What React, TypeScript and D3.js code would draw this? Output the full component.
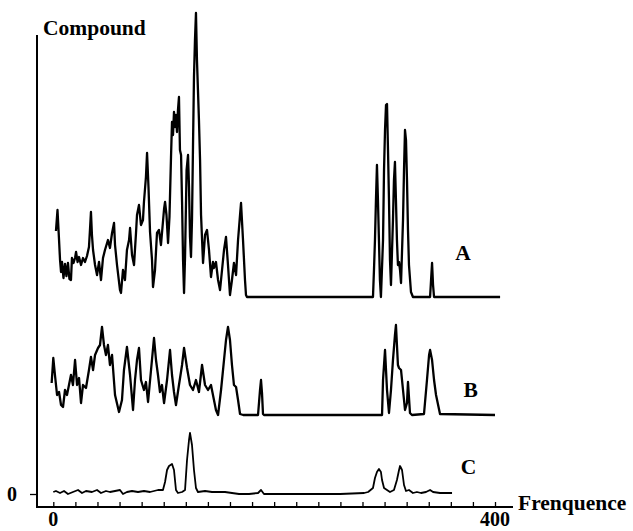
import React, { useEffect, useRef } from 'react';
import * as d3 from 'd3';

// trace data: [frequence, intensity above the trace's own baseline]
const traceA: [number, number][] = [
  [2.4, 66], [3.8, 87], [5.2, 57], [6.1, 37], [7.0, 25], [7.9, 35], [9.2, 19], [10.6, 33], [11.9, 21], [13.3, 34],
  [14.6, 18], [16.0, 17], [16.9, 39], [18.3, 34], [19.7, 39], [20.6, 45], [22.0, 35], [23.3, 40], [25.1, 32], [26.9, 39],
  [28.7, 35], [30.5, 41], [32.3, 50], [33.2, 67], [34.1, 85], [35.0, 62], [36.0, 47], [37.8, 32], [39.6, 22], [41.4, 35],
  [43.2, 17], [45.0, 39], [46.8, 47], [49.5, 57], [51.3, 49], [53.2, 64], [55.0, 74], [55.9, 52], [57.7, 32], [60.4, 7],
  [61.3, 4], [63.1, 27], [64.9, 17], [66.7, 47], [68.6, 57], [69.5, 69], [71.3, 42], [73.1, 32], [74.9, 64], [75.8, 82],
  [77.6, 92], [79.4, 72], [81.2, 77], [82.1, 95], [83.9, 120], [84.9, 144], [86.2, 110], [87.6, 65], [89.4, 37], [90.3, 10],
  [92.1, 27], [93.9, 64], [95.7, 67], [97.5, 52], [100.3, 88], [101.2, 95], [102.5, 82], [103.9, 54], [105.2, 80], [106.6, 140],
  [107.5, 175], [108.4, 162], [109.3, 185], [110.2, 170], [111.1, 182], [112.0, 165], [112.9, 187], [113.8, 200], [114.7, 147],
  [115.7, 142], [116.6, 95], [117.5, 37], [118.4, 4], [119.3, 40], [120.7, 127], [122.0, 142], [122.9, 110], [123.8, 60],
  [124.7, 40], [125.6, 77], [126.5, 150], [127.4, 220], [128.3, 257], [129.2, 284], [130.1, 237], [131.0, 207], [131.9, 177],
  [132.9, 137], [133.8, 82], [135.6, 34], [137.4, 62], [139.2, 67], [141.0, 47], [142.8, 20], [144.6, 35], [145.5, 29],
  [147.3, 35], [149.2, 17], [151.0, 7], [152.8, 27], [154.6, 47], [156.4, 60], [158.2, 32], [160.0, 2], [161.8, 17],
  [163.6, 34], [165.5, 22], [167.3, 57], [169.1, 82], [170.0, 94], [171.8, 57], [173.6, 17], [174.5, 2], [175.4, 0],
  [289.5, 0], [290.4, 27], [291.3, 57], [292.2, 97], [293.1, 132], [294.0, 97], [294.9, 57], [295.8, 17], [296.7, 0],
  [298.6, 57], [299.5, 127], [300.4, 167], [301.3, 192], [302.2, 193], [303.1, 147], [304.0, 97], [304.9, 37], [305.8, 12],
  [307.6, 77], [308.5, 117], [309.4, 135], [310.3, 97], [311.2, 57], [312.1, 32], [313.1, 35], [314.0, 27], [314.9, 14],
  [316.7, 77], [317.6, 127], [318.5, 167], [319.4, 157], [320.3, 117], [321.2, 67], [322.1, 32], [323.9, 5], [325.7, 0],
  [341.2, 0], [342.1, 17], [343.0, 34], [343.9, 12], [344.8, 0], [404.6, 0]
];

const traceB: [number, number][] = [
  [-1.5, 32], [0, 57], [1.5, 40], [3.4, 20], [5.2, 23], [7.0, 10], [8.8, 8], [10.6, 25], [12.4, 20], [14.2, 30],
  [16.0, 40], [17.8, 30], [19.7, 55], [21.5, 30], [23.3, 37], [25.1, 12], [26.9, 30], [29.6, 27], [32.3, 45], [34.1, 58],
  [36.0, 45], [37.8, 60], [40.5, 67], [42.3, 70], [44.1, 88], [45.9, 70], [47.7, 60], [49.5, 70], [51.3, 50], [53.2, 60],
  [55.9, 20], [59.5, 3], [62.2, 15], [64.0, 45], [66.7, 68], [69.5, 40], [72.2, 5], [74.0, 35], [75.8, 55], [77.6, 67],
  [79.4, 35], [82.1, 25], [83.9, 33], [85.8, 13], [88.5, 45], [91.2, 77], [93.0, 55], [94.8, 40], [96.6, 23], [98.4, 30],
  [100.3, 12], [103.0, 35], [105.7, 65], [107.5, 40], [109.3, 23], [111.1, 10], [113.8, 30], [116.6, 50], [118.4, 67],
  [121.1, 47], [123.8, 30], [126.5, 25], [129.2, 35], [131.9, 23], [134.7, 50], [137.4, 30], [140.1, 25], [142.8, 30],
  [145.5, 15], [147.3, 5], [149.2, 0], [151.9, 25], [154.6, 55], [156.4, 75], [158.2, 88], [160.0, 75], [161.8, 50],
  [163.6, 30], [165.5, 28], [167.3, 15], [169.1, 1], [172.0, 0], [185.4, 0], [187.2, 25], [188.1, 35], [189.0, 22],
  [189.9, 1], [190.8, 0], [297.7, 0], [298.6, 35], [300.4, 65], [302.2, 25], [304.0, 2], [305.8, 25], [307.6, 55],
  [309.4, 80], [310.3, 90], [311.2, 70], [312.1, 50], [313.1, 47], [314.9, 45], [316.7, 25], [318.5, 5], [320.3, 12],
  [321.2, 33], [323.0, 2], [324.8, 0], [335.7, 1], [338.4, 35], [340.3, 60], [341.2, 65], [343.0, 55], [344.8, 35],
  [346.6, 20], [350.2, 1], [400, 0]
];

const traceC: [number, number][] = [
  [0, 1], [2.4, 2], [6.1, 0], [9.7, 2], [13.3, -1], [17.8, 1], [22.4, 3], [26.0, 0], [29.6, 2], [35.0, 1],
  [39.6, 3], [43.2, 0], [47.7, 2], [51.3, 1], [55.9, 2], [60.4, 3], [63.1, -1], [66.7, 1], [71.3, 2], [76.7, 1],
  [82.1, 2], [87.6, 1], [94.8, 3], [99.3, 3], [101.2, 11], [103.0, 23], [104.8, 27], [107.5, 29], [109.3, 23],
  [111.1, 3], [112.9, 0], [116.6, 1], [119.3, 3], [121.1, 33], [122.9, 53], [123.8, 60], [125.6, 48], [127.4, 23],
  [129.2, 5], [131.0, 1], [137.4, 2], [143.7, 1], [149.2, 1], [155.5, 1], [161.8, 0], [168.2, -1], [177.3, -1],
  [185.4, 0], [188.1, 3], [190.8, -1], [196.2, -1], [223.4, -1], [259.7, -1], [281.5, 0], [285.1, 1], [289.5, 5],
  [291.3, 15], [293.1, 21], [294.9, 24], [296.7, 21], [297.7, 13], [299.5, 5], [302.2, 3], [304.9, 1], [308.5, 3],
  [311.2, 13], [313.1, 23], [314.0, 27], [315.8, 23], [317.6, 8], [319.4, 2], [322.1, 3], [325.7, 0], [329.3, 1],
  [333.0, 0], [337.5, 1], [341.2, 3], [343.9, 1], [350.2, 0], [361.1, 0]
];

const traceNames = ['A', 'B', 'C'];
const traceBaselines = [197, 79, 1];
const traceLabelAt: [number, number][] = [[371, 234], [378, 97], [376, 20]];
const xTickValues = d3.range(0, 401, 20);
const xTickLabels = [0, 400];
const yTickValues = [0];

const W = 633;
const H = 531;
const FONT = '"Liberation Serif", "Times New Roman", serif';

export default function App() {
  const ref = useRef<SVGSVGElement>(null);

  useEffect(() => {
    const svg = d3.select(ref.current);
    svg.selectAll('*').remove();

    const x = d3.scaleLinear().domain([0, 400]).range([53.3, 495]);
    const y = d3.scaleLinear().domain([0, 480]).range([494, 14]);
    const axisY = 507;
    const axisX = 37;

    // axis lines
    svg.append('line')
      .attr('x1', axisX).attr('x2', axisX)
      .attr('y1', 35).attr('y2', axisY + 1)
      .attr('stroke', '#000').attr('stroke-width', 2);
    svg.append('line')
      .attr('x1', axisX - 1).attr('x2', 513)
      .attr('y1', axisY).attr('y2', axisY)
      .attr('stroke', '#000').attr('stroke-width', 2);

    // x ticks point up into the plot
    const gx = svg.append('g')
      .attr('transform', 'translate(0,' + axisY + ')')
      .call(d3.axisTop(x).tickValues(xTickValues).tickSize(5).tickFormat(() => ''));
    gx.select('.domain').remove();
    gx.selectAll('line').attr('stroke', '#000').attr('stroke-width', 1.3);

    svg.append('g')
      .selectAll('text')
      .data(xTickLabels)
      .enter().append('text')
      .attr('x', d => x(d))
      .attr('y', 526)
      .attr('text-anchor', 'middle')
      .attr('font-family', FONT)
      .attr('font-weight', 'bold')
      .attr('font-size', 20)
      .text(d => d);

    // y tick (only zero)
    const gy = svg.append('g')
      .attr('transform', 'translate(' + axisX + ',0)')
      .call(d3.axisLeft(y).tickValues(yTickValues).tickSize(7).tickPadding(13));
    gy.select('.domain').remove();
    gy.selectAll('line').attr('stroke', '#000').attr('stroke-width', 1.3);
    gy.selectAll('text')
      .attr('font-family', FONT)
      .attr('font-weight', 'bold')
      .attr('font-size', 20)
      .attr('fill', '#000');

    const line = d3.line<[number, number]>()
      .x(d => x(d[0]))
      .y(d => d[1]);

    const traces = [traceA, traceB, traceC];
    traces.forEach((t, i) => {
      const pts = t.map(d => [d[0], y(d[1] + traceBaselines[i])] as [number, number]);
      svg.append('path')
        .attr('d', line(pts))
        .attr('fill', 'none')
        .attr('stroke', '#000')
        .attr('stroke-width', i === 2 ? 1.8 : 2.3)
        .attr('stroke-linejoin', 'round');

      svg.append('text')
        .attr('x', x(traceLabelAt[i][0]))
        .attr('y', y(traceLabelAt[i][1]))
        .attr('text-anchor', 'middle')
        .attr('font-family', FONT)
        .attr('font-weight', 'bold')
        .attr('font-size', 21.5)
        .text(traceNames[i]);
    });

    svg.append('text')
      .attr('x', 43).attr('y', 35)
      .attr('font-family', FONT)
      .attr('font-weight', 'bold')
      .attr('font-size', 21.5)
      .text('Compound');

    svg.append('text')
      .attr('x', 518).attr('y', 510)
      .attr('font-family', FONT)
      .attr('font-weight', 'bold')
      .attr('font-size', 21.5)
      .text('Frenquence');
  }, []);

  return (
    <svg ref={ref} width={W} height={H}
      style={{ position: 'absolute', left: 0, top: 0, background: '#fff' }} />
  );
}
